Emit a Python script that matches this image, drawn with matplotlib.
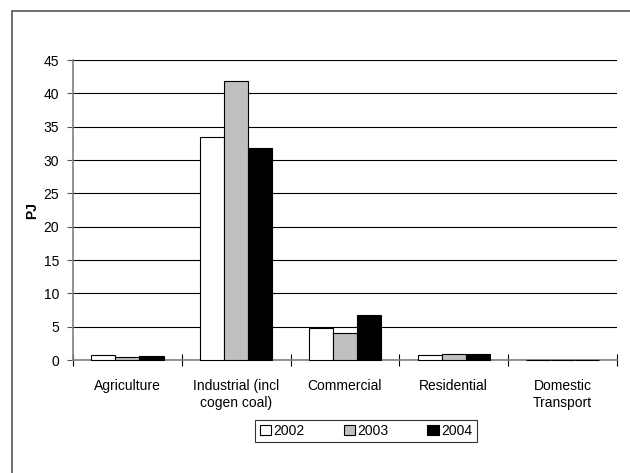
import numpy as np
import matplotlib.pyplot as plt
from matplotlib.patches import Rectangle

plt.rcParams['font.family'] = ['Liberation Sans', 'DejaVu Sans']

sectors = ['Agriculture', 'Industrial (incl\ncogen coal)', 'Commercial',
           'Residential', 'Domestic\nTransport']
years = ['2002', '2003', '2004']
pj_2002 = [0.7, 33.5, 4.75, 0.7, 0.06]
pj_2003 = [0.5, 41.85, 4.1, 0.85, 0.06]
pj_2004 = [0.6, 31.85, 6.8, 0.85, 0.06]
colors = ['white', '#c0c0c0', 'black']

fig = plt.figure(figsize=(6.3, 4.73), dpi=100)
ax = fig.add_axes([73 / 630, 1 - 360 / 473, (617 - 73) / 630, 300 / 473])

# outer frame around the chart area
fig.patches.append(Rectangle((12 / 630, -0.1), 1.2, 1.1 - 11 / 473,
                             transform=fig.transFigure, fill=False,
                             edgecolor='#555555', lw=1.2))

x = np.arange(len(sectors))
w = 1 / 4.5
for i, (vals, c, yr) in enumerate(zip([pj_2002, pj_2003, pj_2004], colors, years)):
    ax.bar(x + (i - 1) * w, vals, w, color=c, edgecolor='black', lw=0.8,
           label=yr, zorder=3, clip_on=False)

ax.set_xlim(-0.5, len(sectors) - 0.5)
ax.set_ylim(0, 45)
ax.set_yticks(np.arange(0, 46, 5))
ax.yaxis.grid(True, color='black', lw=0.8)
ax.set_axisbelow(True)

ax.set_xticks(np.arange(-0.5, len(sectors), 1))
ax.set_xticklabels([])
ax.set_xticks(x, minor=True)
ax.set_xticklabels(sectors, minor=True, fontsize=10)
ax.tick_params(axis='x', which='major', direction='inout', length=8,
               color='black', width=0.8)
ax.tick_params(axis='x', which='minor', length=0, pad=14)
ax.tick_params(axis='y', direction='out', length=4, width=0.8,
               color='#555555', labelsize=10, pad=6)

for s in ['top', 'right']:
    ax.spines[s].set_visible(False)
for s in ['left', 'bottom']:
    ax.spines[s].set_color('#808080')
    ax.spines[s].set_linewidth(1.2)
    ax.spines[s].set_zorder(2)

ax.set_ylabel('PJ', fontsize=10, fontweight='bold', labelpad=3)

leg = fig.legend(loc='center', bbox_to_anchor=(366 / 630, 1 - 431 / 473),
                 ncol=3, fontsize=10, frameon=True, fancybox=False,
                 handlelength=0.8, handleheight=0.8, handletextpad=0.2,
                 columnspacing=2.8, borderpad=0.3, borderaxespad=0)
leg.get_frame().set_edgecolor('black')
leg.get_frame().set_linewidth(0.8)

fig.savefig('out.png', dpi=100)
